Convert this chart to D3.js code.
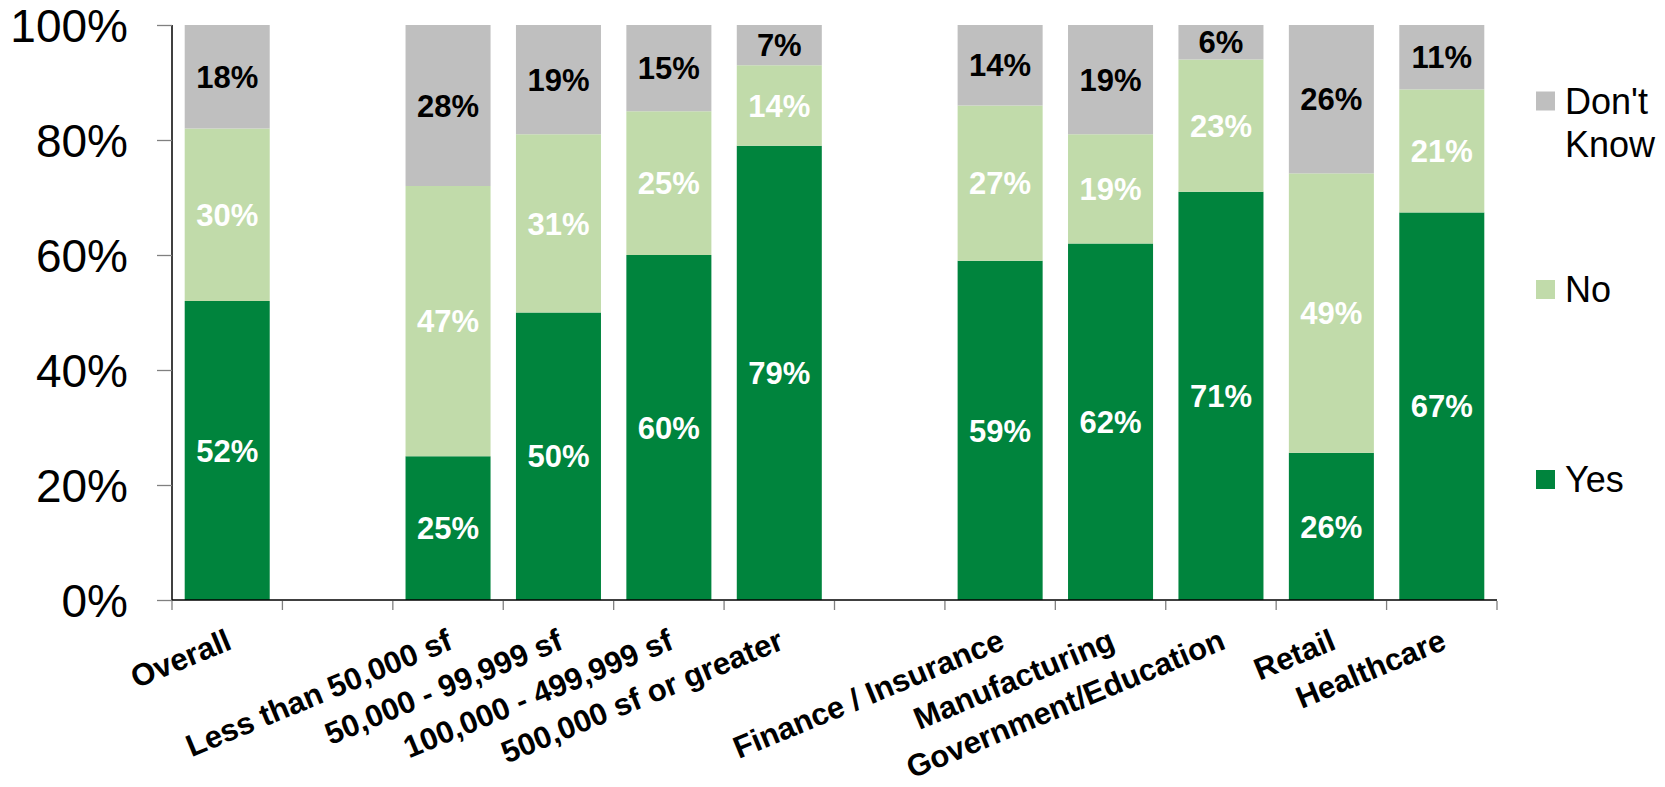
<!DOCTYPE html>
<html>
<head>
<meta charset="utf-8">
<script src="https://cdn.jsdelivr.net/npm/d3@7/dist/d3.min.js"></script>
<style>
  html, body { margin: 0; padding: 0; background: #fff; }
  svg { display: block; font-family: "Liberation Sans", Arial, sans-serif; }
</style>
</head>
<body>
<svg id="chart" width="1665" height="787"></svg>
<script>
// ---- data ----
const categories = ["Overall", "", "Less than 50,000 sf", "50,000 - 99,999 sf", "100,000 - 499,999 sf",
  "500,000 sf or greater", " ", "Finance / Insurance", "Manufacturing", "Government/Education", "Retail", "Healthcare"];
const yesValues      = [52, null, 25, 50, 60, 79, null, 59, 62, 71, 25.6, 67.4];
const noValues       = [30, null, 47, 31, 25, 14, null, 27, 19, 23, 48.6, 21.4];
const dontKnowValues = [18, null, 28, 19, 15, 7,  null, 14, 19, 6,  25.8, 11.2];
const seriesNames = ["Yes", "No", "Don't Know"];
const seriesColors = ["#00843D", "#C1DBAA", "#BFBFBF"];
const labelColors = ["#ffffff", "#ffffff", "#000000"];
const yTicks = [0, 20, 40, 60, 80, 100];

// ---- layout ----
const svg = d3.select("#chart");
const plot = { left: 172, right: 1497, top: 25, bottom: 600 };

const x = d3.scaleBand().domain(d3.range(categories.length))
  .range([plot.left, plot.right]).paddingInner(0.23).paddingOuter(0.115);
const slot = d3.scaleBand().domain(d3.range(categories.length))
  .range([plot.left, plot.right]).padding(0);
const y = d3.scaleLinear().domain([0, 100]).range([plot.bottom, plot.top]);

const rows = categories.map((c, i) => ({
  i, c, Yes: yesValues[i], No: noValues[i], "Don't Know": dontKnowValues[i]
})).filter(d => d.Yes != null);

const stack = d3.stack().keys(seriesNames)(rows);

// bars
stack.forEach((layer, si) => {
  const g = svg.append("g");
  g.selectAll("rect").data(layer).join("rect")
    .attr("x", d => x(d.data.i))
    .attr("width", x.bandwidth())
    .attr("y", d => y(d[1]))
    .attr("height", d => y(d[0]) - y(d[1]))
    .attr("fill", seriesColors[si]);
  g.selectAll("text").data(layer).join("text")
    .attr("x", d => x(d.data.i) + x.bandwidth() / 2)
    .attr("y", d => y((d[0] + d[1]) / 2))
    .attr("dy", "0.36em")
    .attr("text-anchor", "middle")
    .attr("font-size", 31)
    .attr("font-weight", "bold")
    .attr("fill", labelColors[si])
    .text(d => Math.round(d[1] - d[0]) + "%");
});

// y axis
const yAxis = svg.append("g").attr("transform", `translate(${plot.left},0)`)
  .call(d3.axisLeft(y).tickValues(yTicks).tickSize(15).tickPadding(29).tickFormat(d => d + "%"));
yAxis.select(".domain").attr("stroke", "#000").attr("stroke-width", 1.5).attr("d", `M0,${plot.top}V${plot.bottom}`);
yAxis.selectAll(".tick line").attr("stroke", "#808080").attr("stroke-width", 1.3);
yAxis.selectAll(".tick text").attr("font-size", 46).attr("fill", "#000")
  .attr("font-family", "Liberation Sans, Arial, sans-serif").attr("dy", "0.36em");

// x axis (ticks at slot boundaries)
const boundaries = d3.range(categories.length + 1).map(k => plot.left + k * slot.step());
const xg = svg.append("g");
xg.append("line").attr("x1", plot.left).attr("x2", plot.right)
  .attr("y1", plot.bottom).attr("y2", plot.bottom)
  .attr("stroke", "#000").attr("stroke-width", 1.5);
xg.selectAll("line.tk").data(boundaries).join("line").attr("class", "tk")
  .attr("x1", d => d).attr("x2", d => d)
  .attr("y1", plot.bottom + 1).attr("y2", plot.bottom + 10)
  .attr("stroke", "#808080").attr("stroke-width", 1.3);

// x labels
xg.selectAll("text").data(rows).join("text")
  .attr("transform", d => `translate(${slot(d.i) + slot.bandwidth() / 2 - 4},624) rotate(-22.5)`)
  .attr("text-anchor", "end")
  .attr("dy", "0.85em")
  .attr("font-size", 31)
  .attr("font-weight", "bold")
  .attr("fill", "#000")
  .text(d => d.c);

// legend
const legendItems = [
  { name: "Don't Know", lines: ["Don't", "Know"], color: seriesColors[2], cy: 101 },
  { name: "No", lines: ["No"], color: seriesColors[1], cy: 289.5 },
  { name: "Yes", lines: ["Yes"], color: seriesColors[0], cy: 479.5 }
];
const lg = svg.append("g");
legendItems.forEach(it => {
  lg.append("rect").attr("x", 1536).attr("y", it.cy - 9.5).attr("width", 19).attr("height", 19).attr("fill", it.color);
  const t = lg.append("text").attr("x", 1565).attr("y", it.cy)
    .attr("font-size", 36).attr("fill", "#000");
  it.lines.forEach((ln, k) => {
    t.append("tspan").attr("x", 1565).attr("dy", k === 0 ? "0.36em" : "1.2em").text(ln);
  });
});
</script>
</body>
</html>
